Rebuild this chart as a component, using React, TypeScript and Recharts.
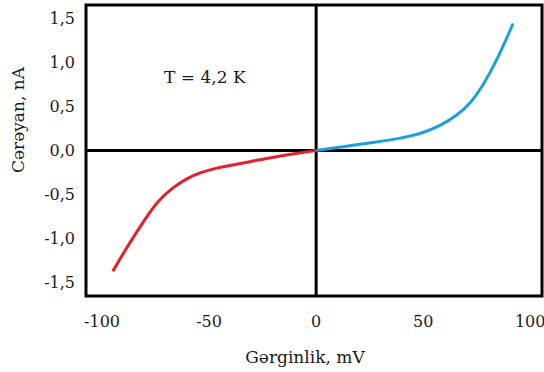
import React from 'react';
import { LineChart, Line, XAxis, YAxis, ReferenceLine, ReferenceArea, ReferenceDot, Label } from 'recharts';

// negative branch (red)
const negVoltage = [-95, -88, -80, -74, -67, -60, -54, -47, -39, -31, -23, -12, 0];
const negCurrent = [-1.37, -1.08, -0.78, -0.57, -0.42, -0.31, -0.25, -0.2, -0.165, -0.128, -0.088, -0.042, 0];

// positive branch (blue)
const posVoltage = [0, 13, 28, 39, 49, 58, 66, 72, 78, 84, 92];
const posCurrent = [0, 0.045, 0.095, 0.135, 0.19, 0.28, 0.4, 0.53, 0.74, 1.0, 1.44];

const xTicks = [-100, -50, 0, 50, 100];
const yTicks = [-1.5, -1, -0.5, 0, 0.5, 1, 1.5];

const xDomain: [number, number] = [-107.5, 105.5];
const yDomain: [number, number] = [-1.65, 1.65];

const negData = negVoltage.map((v, i) => ({ v, i: negCurrent[i] }));
const posData = posVoltage.map((v, i) => ({ v, i: posCurrent[i] }));

const font = '"DejaVu Serif", serif';
const tickStyle = { fontFamily: font, fontSize: 16, fill: '#1a1a1a' };

const App: React.FC = () => {
  return (
    <div style={{ position: 'absolute', left: 0, top: 0, background: '#fff' }}>
      <LineChart width={544} height={372} margin={{ top: 5, right: 2, left: 26, bottom: 46 }}>
        <XAxis
          type="number"
          dataKey="v"
          domain={xDomain}
          ticks={xTicks}
          allowDataOverflow
          axisLine={false}
          tickLine={false}
          tickMargin={14}
          tick={tickStyle}
          height={30}
          label={
            <Label
              content={() => (
                <text x={305} y={363} textAnchor="middle" fontFamily={font} fontSize={17} fill="#1a1a1a">
                  Gərginlik, mV
                </text>
              )}
            />
          }
        />
        <YAxis
          type="number"
          dataKey="i"
          domain={yDomain}
          ticks={yTicks}
          allowDataOverflow
          axisLine={false}
          tickLine={false}
          tickMargin={5}
          tick={tickStyle}
          width={60}
          tickFormatter={(t: number) => t.toFixed(1).replace('.', ',')}
          label={
            <Label
              content={() => (
                <text
                  x={18}
                  y={120}
                  transform="rotate(-90 18 120)"
                  textAnchor="middle"
                  dominantBaseline="central"
                  fontFamily={font}
                  fontSize={17}
                  fill="#1a1a1a"
                >
                  Cərəyan, nA
                </text>
              )}
            />
          }
        />
        <ReferenceArea
          x1={xDomain[0]}
          x2={xDomain[1]}
          y1={yDomain[0]}
          y2={yDomain[1]}
          fill="none"
          stroke="#000"
          strokeWidth={3}
          ifOverflow="visible"
        />
        <ReferenceLine x={0} stroke="#000" strokeWidth={3} />
        <ReferenceLine y={0} stroke="#000" strokeWidth={3} />
        <ReferenceDot
          x={-52}
          y={0.83}
          r={0}
          fill="none"
          stroke="none"
          label={{ value: 'T = 4,2 K', position: 'center', fontFamily: font, fontSize: 17, fill: '#1a1a1a' }}
        />
        <Line
          data={negData}
          dataKey="i"
          type="basis"
          stroke="#e3202b"
          strokeWidth={3}
          dot={false}
          isAnimationActive={false}
        />
        <Line
          data={posData}
          dataKey="i"
          type="basis"
          stroke="#1ca0dc"
          strokeWidth={3}
          dot={false}
          isAnimationActive={false}
        />
      </LineChart>
    </div>
  );
};

export default App;
